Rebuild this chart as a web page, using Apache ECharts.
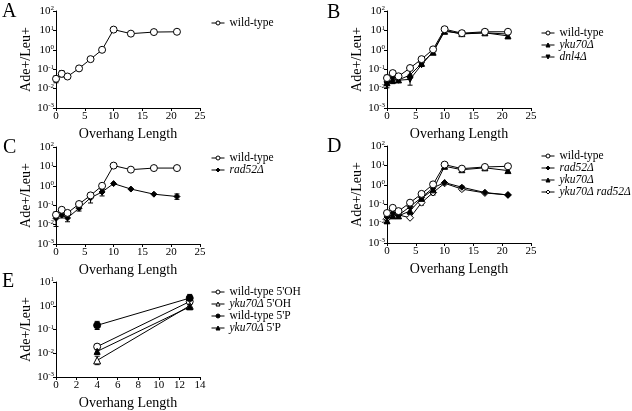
<!DOCTYPE html>
<html><head><meta charset="utf-8">
<script src="https://cdn.jsdelivr.net/npm/echarts@6/dist/echarts.min.js"></script>
<style>html,body{margin:0;padding:0;background:#fff}#c{width:632px;height:411px}</style>
</head><body><div id="c"></div>
<script>
// ---------- data ----------
const xLen = [0, 1, 2, 4, 6, 8, 10, 13, 17, 21];
const xLenE = [4, 13];

const wtA   = [0.032, 0.058, 0.042, 0.11, 0.33, 1.0, 11, 6.8, 8.2, 8.5];
const wtB   = [0.035, 0.063, 0.043, 0.115, 0.33, 1.05, 11.5, 7.2, 8.5, 8.5];
const ykuB  = [0.02, 0.027, 0.028, 0.05, 0.2, 0.75, 9, 6.8, 7.5, 5.2];
const dnlB  = [0.016, 0.033, 0.027, 0.03, 0.17, 0.8, 10, 6.5, 7.5, 6.5];
const wtC   = [0.032, 0.058, 0.04, 0.115, 0.32, 1.0, 11, 6.8, 8.2, 8.2];
const radC  = [0.021, 0.031, 0.022, 0.07, 0.24, 0.48, 1.3, 0.68, 0.37, 0.28];
const wtD   = [0.035, 0.065, 0.044, 0.12, 0.34, 1.05, 11, 6.8, 8.3, 9];
const radD  = [0.022, 0.034, 0.027, 0.075, 0.22, 0.7, 1.3, 0.75, 0.4, 0.3];
const ykuD  = [0.014, 0.025, 0.025, 0.045, 0.2, 0.55, 9, 6, 7.5, 5.4];
const ykrD  = [0.018, 0.03, 0.028, 0.02, 0.12, 0.4, 1.2, 0.6, 0.38, 0.3];
const wtOH  = [0.019, 1.5];
const ykOH  = [0.005, 1.0];
const wtP   = [0.15, 2.1];
const ykP   = [0.012, 0.9];

// error bars: [x, low, high]
const errA   = [[0,0.02,0.045],[1,0.04,0.085],[4,0.085,0.14],[6,0.27,0.4],[17,6.5,10.5],[21,7,10]];
const errB   = [[0,0.011,0.05],[1,0.018,0.085],[2,0.022,0.045],[4,0.015,0.05],[6,0.14,0.22],[10,7,13]];
const errC   = [[0,0.008,0.045],[1,0.022,0.075],[2,0.014,0.035],[4,0.05,0.09],[6,0.13,0.34],[8,0.3,0.65],[17,6.5,10],[21,0.2,0.38],[21,7,10]];
const errD   = [[0,0.01,0.045],[1,0.02,0.07],[4,0.03,0.06],[6,0.09,0.25],[8,0.3,0.6],[13,0.5,0.85]];
const errE   = [[4,0.1,0.22],[4,0.0033,0.0075],[4,0.014,0.024],[4,0.009,0.016],[13,1.4,3.0],[13,0.75,1.15]];

// ---------- chart ----------
const FF = "'Liberation Serif', 'DejaVu Serif', serif";
const chart = echarts.init(document.getElementById('c'));

const grids = [
  {left:56, top:11, width:144, height:97},
  {left:387, top:11, width:144, height:97},
  {left:56, top:147, width:144, height:97},
  {left:387, top:146, width:144, height:97},
  {left:56, top:282, width:144, height:95}
];

function supFmt(v){
  const e = Math.round(Math.log10(v));
  return '{b|10}{s|' + (e < 0 ? '-' + (-e) : e) + '}';
}
const axisCommon = {
  axisLine:{onZero:false, lineStyle:{color:'#000', width:1}},
  axisTick:{length:3, lineStyle:{color:'#000'}},
  splitLine:{show:false}
};
const xAxes = grids.map((g,i) => Object.assign({}, axisCommon, {
  type:'value', gridIndex:i, min:0, max: i===4 ? 14 : 25, interval: i===4 ? 2 : 5,
  axisLabel:{color:'#000', fontSize:11, fontFamily:FF, margin:3},
  name:'Overhang Length', nameLocation:'middle', nameGap:19,
  nameTextStyle:{fontSize:14, color:'#000', fontFamily:FF}
}));
const yAxes = grids.map((g,i) => Object.assign({}, axisCommon, {
  type:'log', logBase:10, gridIndex:i, min:0.001, max: i===4 ? 10 : 100,
  axisLabel:{color:'#000', margin:2, formatter:supFmt,
    rich:{b:{fontSize:11, fontFamily:FF, color:'#000'}, s:{fontSize:7, fontFamily:FF, color:'#000', verticalAlign:'top', padding:[0,0,5,0]}}},
  name:'Ade+/Leu+', nameLocation:'middle', nameGap:16,
  nameTextStyle:{fontSize:14, color:'#000', fontFamily:FF}
}));

const MK = {
  openCircle:{symbol:'circle', fill:'#fff', size:7},
  fillCircle:{symbol:'circle', fill:'#000', size:7},
  triUp:{symbol:'triangle', fill:'#000', size:6},
  triDown:{symbol:'triangle', fill:'#000', size:6, rotate:180},
  diamond:{symbol:'diamond', fill:'#000', size:6},
  openDiamond:{symbol:'diamond', fill:'#fff', size:7},
  openTri:{symbol:'triangle', fill:'#fff', size:7}
};
function lineSeries(name, xs, ys, gi, mk, z){
  return {
    type:'line', name:name, xAxisIndex:gi, yAxisIndex:gi,
    data: xs.map((x,k)=>[x, ys[k]]),
    symbol: mk.symbol, symbolSize: mk.size, symbolRotate: mk.rotate || 0,
    showAllSymbol:true, animation:false, z: z || 3,
    lineStyle:{color:'#000', width:1},
    itemStyle:{color: mk.fill, borderColor:'#000', borderWidth:1}
  };
}
function errSeries(data, gi){
  return {
    type:'custom', xAxisIndex:gi, yAxisIndex:gi, data:data, z:1, animation:false, silent:true,
    encode:{x:0, y:[1,2]},
    renderItem:function(params, api){
      const x = api.value(0);
      const lo = api.coord([x, api.value(1)]);
      const hi = api.coord([x, api.value(2)]);
      const w = 2.5;
      const st = {stroke:'#000', lineWidth:1};
      return {type:'group', children:[
        {type:'line', shape:{x1:lo[0], y1:lo[1], x2:hi[0], y2:hi[1]}, style:st},
        {type:'line', shape:{x1:lo[0]-w, y1:lo[1], x2:lo[0]+w, y2:lo[1]}, style:st},
        {type:'line', shape:{x1:hi[0]-w, y1:hi[1], x2:hi[0]+w, y2:hi[1]}, style:st}
      ]};
    }
  };
}

const series = [
  errSeries(errA,0), lineSeries('wild-type', xLen, wtA, 0, MK.openCircle),
  errSeries(errB,1),
  lineSeries('dnl4Δ', xLen, dnlB, 1, MK.triDown),
  lineSeries('yku70Δ', xLen, ykuB, 1, MK.triUp),
  lineSeries('wild-type', xLen, wtB, 1, MK.openCircle, 4),
  errSeries(errC,2),
  lineSeries('rad52Δ', xLen, radC, 2, MK.diamond),
  lineSeries('wild-type', xLen, wtC, 2, MK.openCircle, 4),
  errSeries(errD,3),
  lineSeries('yku70Δ rad52Δ', xLen, ykrD, 3, MK.openDiamond),
  lineSeries('yku70Δ', xLen, ykuD, 3, MK.triUp),
  lineSeries('rad52Δ', xLen, radD, 3, MK.diamond),
  lineSeries('wild-type', xLen, wtD, 3, MK.openCircle, 4),
  errSeries(errE,4),
  lineSeries("wild-type 5'OH", xLenE, wtOH, 4, MK.openCircle),
  lineSeries("yku70Δ 5'OH", xLenE, ykOH, 4, MK.openTri),
  lineSeries("wild-type 5'P", xLenE, wtP, 4, MK.fillCircle),
  lineSeries("yku70Δ 5'P", xLenE, ykP, 4, MK.triUp)
];

function legFmt(name){
  const m = name.match(/^(yku70Δ rad52Δ|yku70Δ|rad52Δ|dnl4Δ)(.*)$/);
  if (m) return '{i|' + m[1] + '}' + (m[2] ? '{n|' + m[2] + '}' : '');
  return '{n|' + name + '}';
}
function legend(left, top, names){
  return {
    left:left, top:top, orient:'vertical', itemWidth:13, itemHeight:5, itemGap:0,
    padding:0, data:names, formatter:legFmt, selectedMode:false,
    itemStyle:{borderWidth:1, borderColor:'#000'},
    lineStyle:{width:1, color:'#000'},
    textStyle:{fontSize:11.5, fontFamily:FF, color:'#000', lineHeight:11,
      rich:{i:{fontSize:11.5, fontFamily:FF, fontStyle:'italic', color:'#000', lineHeight:11},
            n:{fontSize:11.5, fontFamily:FF, color:'#000', lineHeight:11}}}
  };
}

const letters = [['A',2,2],['B',327,3],['C',3,138],['D',327,137],['E',2,272]];

chart.setOption({
  animation:false,
  backgroundColor:'#fff',
  textStyle:{fontFamily:FF},
  grid:grids,
  xAxis:xAxes,
  yAxis:yAxes,
  series:series,
  legend:[
    legend(211, 17, ['wild-type']),
    legend(541, 27, ['wild-type','yku70Δ','dnl4Δ']),
    legend(211, 152, ['wild-type','rad52Δ']),
    legend(541, 150, ['wild-type','rad52Δ','yku70Δ','yku70Δ rad52Δ']),
    legend(211, 286, ["wild-type 5'OH","yku70Δ 5'OH","wild-type 5'P","yku70Δ 5'P"])
  ],
  graphic: letters.map(l => ({type:'text', left:l[1], top:l[2], z:10,
    style:{text:l[0], fontSize:20, fontFamily:FF, fill:'#000'}}))
});
</script></body></html>
